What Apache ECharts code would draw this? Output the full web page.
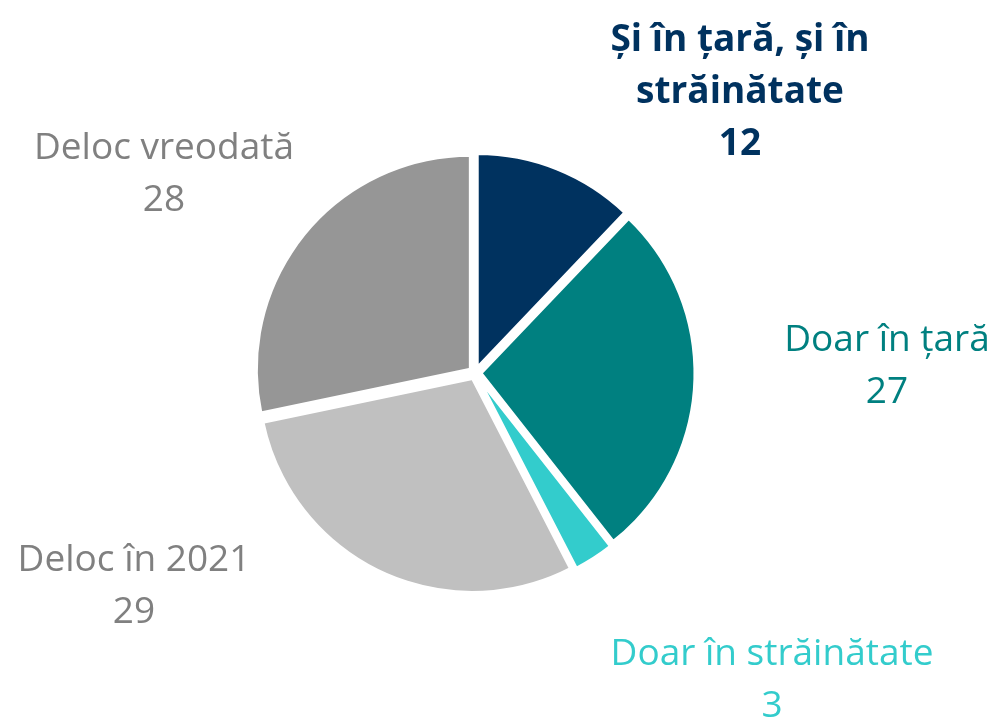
<!DOCTYPE html>
<html>
<head>
<meta charset="utf-8">
<script src="https://cdn.jsdelivr.net/npm/echarts@6/dist/echarts.min.js"></script>
<style>html,body{margin:0;padding:0;background:#fff;}#c{width:1000px;height:725px;}</style>
</head>
<body>
<div id="c"></div>
<script>
var categories = ['Și în țară, și în\nstrăinătate', 'Doar în țară', 'Doar în străinătate', 'Deloc în 2021', 'Deloc vreodată'];
var values = [12, 27, 3, 29, 28];
var sliceColors = ['#00325F', '#008080', '#33CCCC', '#C0C0C0', '#969696'];
var labelColors = ['#00325F', '#008080', '#33CCCC', '#808080', '#808080'];
var labelWeights = ['bold', 'normal', 'normal', 'normal', 'normal'];
var labelPos = [[740, 92], [887, 366], [772, 680], [134, 586], [164, 174]];

var chart = echarts.init(document.getElementById('c'), null, {renderer: 'canvas'});
chart.setOption({
  animation: false,
  series: [{
    type: 'pie',
    center: [475, 373],
    radius: 214,
    startAngle: 90,
    clockwise: true,
    selectedMode: 'multiple',
    selectedOffset: 6,
    itemStyle: {borderColor: '#fff', borderWidth: 3},
    label: {show: false},
    labelLine: {show: false},
    emphasis: {disabled: true},
    data: values.map(function (v, i) {
      return {
        name: categories[i],
        value: v,
        selected: true,
        itemStyle: {color: sliceColors[i]},
        select: {itemStyle: {color: sliceColors[i], borderColor: '#fff', borderWidth: 3}, label: {show: false}}
      };
    })
  }, {
    type: 'pie',
    center: [475, 373],
    radius: 214,
    startAngle: 90,
    clockwise: true,
    silent: true,
    z: 3,
    itemStyle: {color: 'rgba(0,0,0,0)', borderWidth: 0},
    label: {
      show: true,
      position: 'outside',
      formatter: function (p) { return p.name + '\n' + p.value; },
      fontFamily: 'Open Sans',
      fontSize: 37,
      lineHeight: 52,
      overflow: 'none'
    },
    labelLine: {show: false},
    labelLayout: function (p) {
      var pos = labelPos[p.dataIndex];
      return {x: pos[0], y: pos[1], align: 'center', verticalAlign: 'middle'};
    },
    data: values.map(function (v, i) {
      return {
        name: categories[i],
        value: v,
        label: {color: labelColors[i], fontWeight: labelWeights[i]}
      };
    })
  }]
});
</script>
</body>
</html>
